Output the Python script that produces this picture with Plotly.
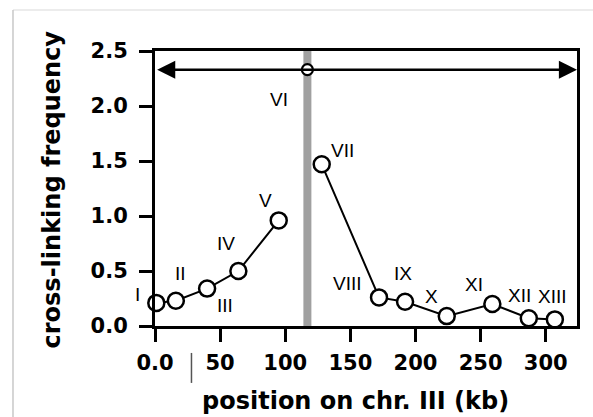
import plotly.graph_objects as go

# ---- data ----
labels = ["I", "II", "III", "IV", "V", "VI", "VII", "VIII", "IX", "X", "XI", "XII", "XIII"]
position_kb = [1, 16, 40, 64, 95, 117, 128, 172, 192, 224, 259, 287, 307]
frequency = [0.21, 0.23, 0.34, 0.50, 0.96, 2.33, 1.47, 0.26, 0.22, 0.09, 0.20, 0.07, 0.06]
segment = [1, 1, 1, 1, 1, 0, 2, 2, 2, 2, 2, 2, 2]   # 0 = unconnected point

x_ticks = [0, 50, 100, 150, 200, 250, 300]
x_tick_text = ["0.0", "50", "100", "150", "200", "250", "300"]
y_ticks = [0.0, 0.5, 1.0, 1.5, 2.0, 2.5]
y_tick_text = ["0.0", "0.5", "1.0", "1.5", "2.0", "2.5"]

x_title = "position on chr. III (kb)"
y_title = "cross-linking frequency"

centromere_kb = 117
arrow_level = 2.33
x_range = [0, 324]
y_range = [0, 2.5]

# ---- styling ----
BOLD = "DejaVu Sans"
fig = go.Figure()

for seg in sorted(set(segment)):
    xs = [p for p, s in zip(position_kb, segment) if s == seg]
    ys = [f for f, s in zip(frequency, segment) if s == seg]
    if seg == 0:
        fig.add_trace(go.Scatter(
            x=xs, y=ys, mode="markers", cliponaxis=False, showlegend=False,
            marker=dict(size=11, color="white", line=dict(color="black", width=2.2))))
    else:
        fig.add_trace(go.Scatter(
            x=xs, y=ys, mode="lines+markers", cliponaxis=False, showlegend=False,
            line=dict(color="black", width=2),
            marker=dict(size=16, color="white", line=dict(color="black", width=2.5))))

# label offsets in pixels (x, y) relative to each point
offsets = {
    "I": (-19, 8), "II": (5, 27), "III": (18, -17), "IV": (-12, 28), "V": (-13, 20),
    "VI": (-28, -30), "VII": (21, 14), "VIII": (-32, 14), "IX": (-2, 28),
    "X": (-15, 20), "XI": (-18, 20), "XII": (-9, 23), "XIII": (-2, 23),
}
for lab, x, y in zip(labels, position_kb, frequency):
    dx, dy = offsets[lab]
    fig.add_annotation(x=x, y=y, text=lab, showarrow=False, xshift=dx, yshift=dy,
                       font=dict(family="Liberation Sans", size=19, color="black"))

# centromere band
fig.add_shape(type="line", x0=centromere_kb, x1=centromere_kb, y0=0, y1=2.5,
              xref="x", yref="y", layer="below",
              line=dict(color="#a0a0a0", width=8))

# double-headed arrow
fig.add_annotation(x=x_range[1], y=arrow_level, ax=x_range[0] + 0.5, ay=arrow_level,
                   xref="x", yref="y", axref="x", ayref="y", text="",
                   showarrow=True, arrowhead=2, startarrowhead=2, arrowside="end+start",
                   arrowsize=1.45, startarrowsize=1.45, arrowwidth=2.5, arrowcolor="black")

# small stray bar under the axis
fig.add_shape(type="line", x0=28, x1=28, y0=-0.098, y1=-0.207, xref="x", yref="paper",
              line=dict(color="#555555", width=1.5))

# light screenshot border
fig.add_shape(type="line", x0=-0.3365, x1=1.1, y0=1.149, y1=1.149, xref="paper", yref="paper",
              line=dict(color="#e6e6e6", width=1.5))
fig.add_shape(type="line", x0=-0.3365, x1=-0.3365, y0=1.149, y1=-0.4, xref="paper", yref="paper",
              line=dict(color="#c8c8c8", width=1.5))

# axis titles
fig.add_annotation(x=0.476, y=-0.272, xref="paper", yref="paper", text=x_title,
                   showarrow=False, xanchor="center", yanchor="middle",
                   font=dict(family=BOLD, size=24, color="black", weight="bold"))
fig.add_annotation(x=-0.245, y=0.495, xref="paper", yref="paper", text=y_title,
                   showarrow=False, textangle=-90, xanchor="center", yanchor="middle",
                   font=dict(family=BOLD, size=24, color="black", weight="bold"))

axis_common = dict(showline=True, mirror=True, linecolor="black", linewidth=3,
                   ticks="outside", ticklen=13, tickwidth=3, tickcolor="black",
                   showgrid=False, zeroline=False,
                   tickfont=dict(family=BOLD, size=21, color="black", weight="bold"))

fig.update_xaxes(range=x_range, tickvals=x_ticks, ticktext=x_tick_text,
                 ticklabelstandoff=3, **axis_common)
fig.update_yaxes(range=y_range, tickvals=y_ticks, ticktext=y_tick_text,
                 ticklabelstandoff=7, **axis_common)

fig.update_layout(width=593, height=417, margin=dict(l=155, r=16, t=51, b=91),
                  paper_bgcolor="white", plot_bgcolor="white")

fig.write_html("out.html", config={"displayModeBar": False},
               post_script="document.body.style.margin='0px';")
